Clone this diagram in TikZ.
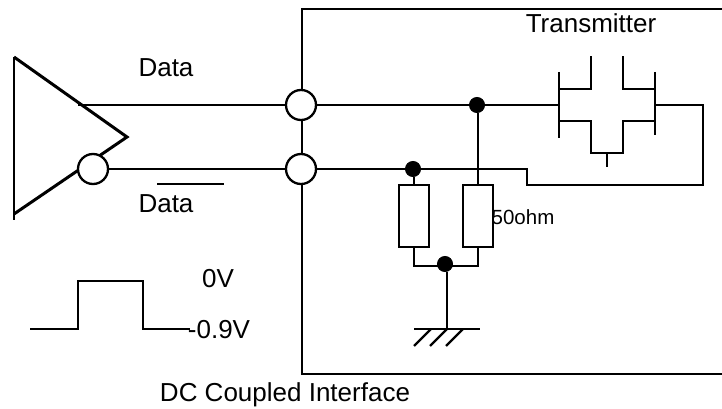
\documentclass[tikz,border=0pt]{standalone}
\usepackage{fontspec}
\setmainfont{Liberation Sans}
\tikzset{
  wire/.style={line width=2.3pt, line join=miter},
  port/.style={circle, draw, line width=2.3pt, fill=white, minimum size=30pt, inner sep=0pt},
  junction/.style={circle, draw, line width=1pt, fill=black, minimum size=15pt, inner sep=0pt},
  resistor/.style={rectangle, draw, line width=2.3pt, fill=white, minimum width=30pt, minimum height=62pt, inner sep=0pt},
  label/.style={font=\fontsize{26}{29}\selectfont, inner sep=0pt},
}
\begin{document}
\begin{tikzpicture}[x=1pt, y=-1pt]
\useasboundingbox (0,0) rectangle (722,409);

% Driver
\coordinate (drvtop) at (14,57);
\coordinate (drvbot) at (14,220);
\coordinate (drvlow) at (14,214);
\coordinate (drvtip) at (127,137);
\draw[wire] (drvtop) -- (drvbot);
\draw[line width=3pt] (drvtop) -- (drvtip) -- (drvlow);
\node[port] (bubble) at (93,169) {};

% Transmitter box
\coordinate (boxtr) at (722,9);
\coordinate (boxtl) at (302,9);
\coordinate (boxbl) at (302,374);
\coordinate (boxbr) at (722,374);
\draw[wire] (boxtr) -- (boxtl) -- (boxbl) -- (boxbr);

% Ports and junctions
\node[port] (portp) at (301,105) {};
\node[port] (portn) at (301,169) {};
\node[junction] (dotp) at (477,105) {};
\node[junction] (dotn) at (413,169) {};
\node[junction] (dotg) at (445,264) {};

% Resistors
\node[resistor] (resl) at (414,216) {};
\node[resistor] (resr) at (478,216) {};
\node[label, font=\fontsize{20.5}{23}\selectfont] (ohm) at (523,217) {50ohm};

% Data lines
\coordinate (datap) at (78,105);
\draw[wire] (datap) -- (portp);
\draw[wire] (bubble) -- (portn);
\draw[wire] (portp) -- (dotp);
\draw[wire] (portn) -- (dotn);

% Transmitter pair
\coordinate (gatel) at (559,105);
\coordinate (gater) at (655,105);
\coordinate (bendr) at (703,105);
\coordinate (bendb) at (703,185);
\coordinate (bendn) at (527,185);
\coordinate (bendt) at (527,169);
\draw[wire] (dotp) -- (gatel);
\draw[wire] (dotn) -- (bendt) -- (bendn) -- (bendb) -- (bendr) -- (gater);
\draw[wire] (559,72) -- (559,138);
\draw[wire] (655,72) -- (655,135);
\draw[wire] (559,89) -- (591,89) -- (591,56);
\draw[wire] (655,89) -- (623,89) -- (623,56);
\draw[wire] (559,121) -- (591,121) -- (591,153) -- (623,153) -- (623,121) -- (655,121);
\draw[wire] (607,153) -- (607,167);

% Resistor legs
\coordinate (legl) at (414,266);
\coordinate (legr) at (478,266);
\coordinate (gnd) at (447,329);
\draw[wire] (dotp.south -| resr.north) -- (resr.north);
\draw[wire] (dotn.south -| resl.north) -- (resl.north);
\draw[wire] (resl.south) -- (legl) -- (legr) -- (resr.south);
\draw[wire] (dotg.south -| gnd) -- (gnd);

% Ground
\draw[wire] (414,329) -- (480,329);
\foreach \x in {414,430,446}
  \draw[wire] (\x,346) -- (\x+17,329);

% Pulse
\draw[wire] (30,329) -- (78,329) -- (78,281) -- (143,281) -- (143,329) -- (190,329);

% Labels
\node[label] (datatop) at (166,68) {Data};
\node[label] (databot) at (166,204) {Data};
\draw[line width=1.8pt] (157,184) -- (224,184);
\node[label] (tx) at (591,23) {Transmitter};
\node[label] (zero) at (218,279) {0V};
\node[label] (low) at (219,330) {-0.9V};
\node[label] (caption) at (285,395) {DC Coupled Interface};
\end{tikzpicture}
\end{document}
